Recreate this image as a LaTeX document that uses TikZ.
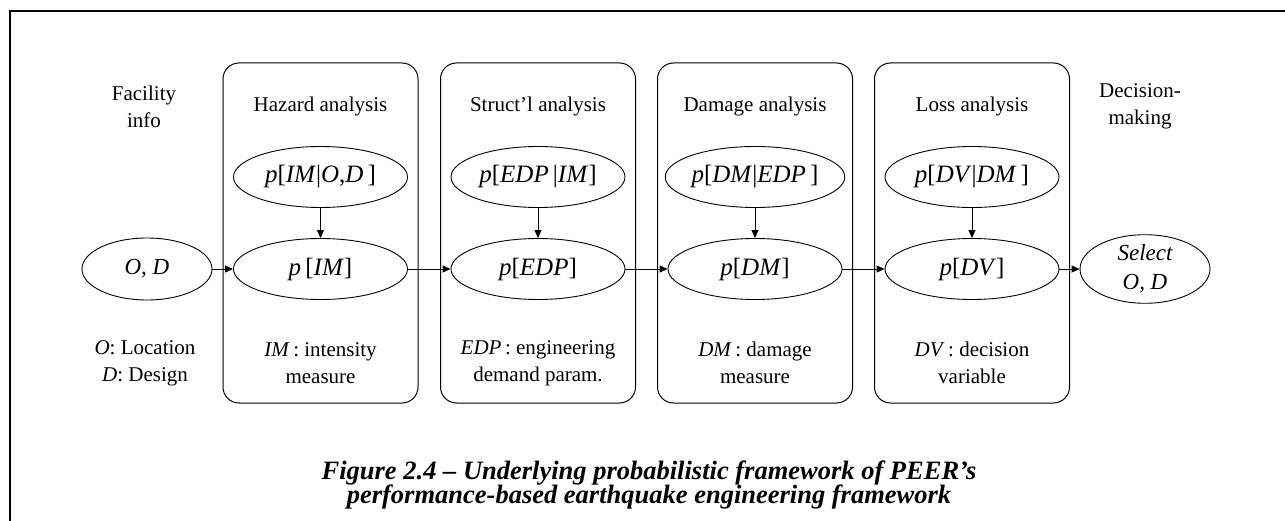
\documentclass[tikz,border=0pt]{standalone}
\usepackage{fontspec}
\setmainfont{Liberation Serif}
\usetikzlibrary{arrows.meta,shapes.geometric}
\begin{document}
\begin{tikzpicture}[x=1pt,y=-1pt,
  stage/.style={draw,rounded corners=16pt,minimum width=195pt,minimum height=340pt,inner sep=0pt,line width=1pt},
  prob/.style={draw,ellipse,minimum width=174pt,minimum height=61pt,inner sep=0pt,line width=0.9pt,font=\fontsize{25}{28}\selectfont},
  endpt/.style={draw,ellipse,minimum width=130pt,minimum height=62pt,inner sep=0pt,line width=0.9pt,font=\fontsize{23}{29}\selectfont\itshape,align=center},
  lbl/.style={font=\fontsize{21}{27}\selectfont,align=center,inner sep=0pt},
  arr/.style={-{Triangle[length=8pt,width=7pt]},line width=0.9pt},
  captxt/.style={font=\fontsize{26.5}{24.5}\selectfont\bfseries\itshape,align=center,inner sep=0pt},
]
\useasboundingbox (0,0) rectangle (1285,521);
\draw[line width=2pt] (10,530) -- (10,11) -- (1290,11);

% stage boxes
\node[stage] (b1) at (320.5,233) {};
\node[stage] (b2) at (538,233) {};
\node[stage] (b3) at (755,233) {};
\node[stage] (b4) at (972,233) {};

% titles
\node[lbl] (t0) at (144,106.5) {Facility\\info};
\node[lbl] (t1) at (320.5,106) {Hazard analysis};
\node[lbl] (t2) at (538,106) {Struct'l analysis};
\node[lbl] (t3) at (755,106) {Damage analysis};
\node[lbl] (t4) at (972,106) {Loss analysis};
\node[lbl] (t5) at (1140,106) {Decision-\\making};

% conditional ellipses
\node[prob] (c1) at (320.5,177) {\textit{p}[\textit{IM}|\textit{O},\textit{D}\,]};
\node[prob] (c2) at (538,177) {\textit{p}[\textit{EDP}\,|\textit{IM}]};
\node[prob] (c3) at (755,177) {\textit{p}[\textit{DM}|\textit{EDP}\,]};
\node[prob] (c4) at (972,177) {\textit{p}[\textit{DV}|\textit{DM}\,]};

% marginal ellipses
\node[endpt] (od) at (147,269) {O, D};
\node[prob] (m1) at (320.5,269) {\textit{p}\,[\textit{IM}]};
\node[prob] (m2) at (538,269) {\textit{p}[\textit{EDP}]};
\node[prob] (m3) at (755,269) {\textit{p}[\textit{DM}]};
\node[prob] (m4) at (972,269) {\textit{p}[\textit{DV}]};
\node[endpt] (sel) at (1145,269) {Select\\O, D};

% bottom labels
\node[lbl] (d0) at (145,363) {\textit{O}: Location\\\textit{D}: Design};
\node[lbl] (d1) at (320.5,363) {\textit{IM}\,: intensity\\measure};
\node[lbl] (d2) at (538,363) {\textit{EDP}\,: engineering\\demand param.};
\node[lbl] (d3) at (755,363) {\textit{DM}\,: damage\\measure};
\node[lbl] (d4) at (972,363) {\textit{DV}\,: decision\\variable};

% arrows
\draw[arr] (c1) -- (m1);
\draw[arr] (c2) -- (m2);
\draw[arr] (c3) -- (m3);
\draw[arr] (c4) -- (m4);
\draw[arr] (od) -- (m1);
\draw[arr] (m1) -- (m2);
\draw[arr] (m2) -- (m3);
\draw[arr] (m3) -- (m4);
\draw[arr] (m4) -- (sel);

% caption
\node[captxt] (caption) at (649,485) {Figure 2.4 – Underlying probabilistic framework of PEER’s\\performance-based earthquake engineering framework};
\end{tikzpicture}
\end{document}
